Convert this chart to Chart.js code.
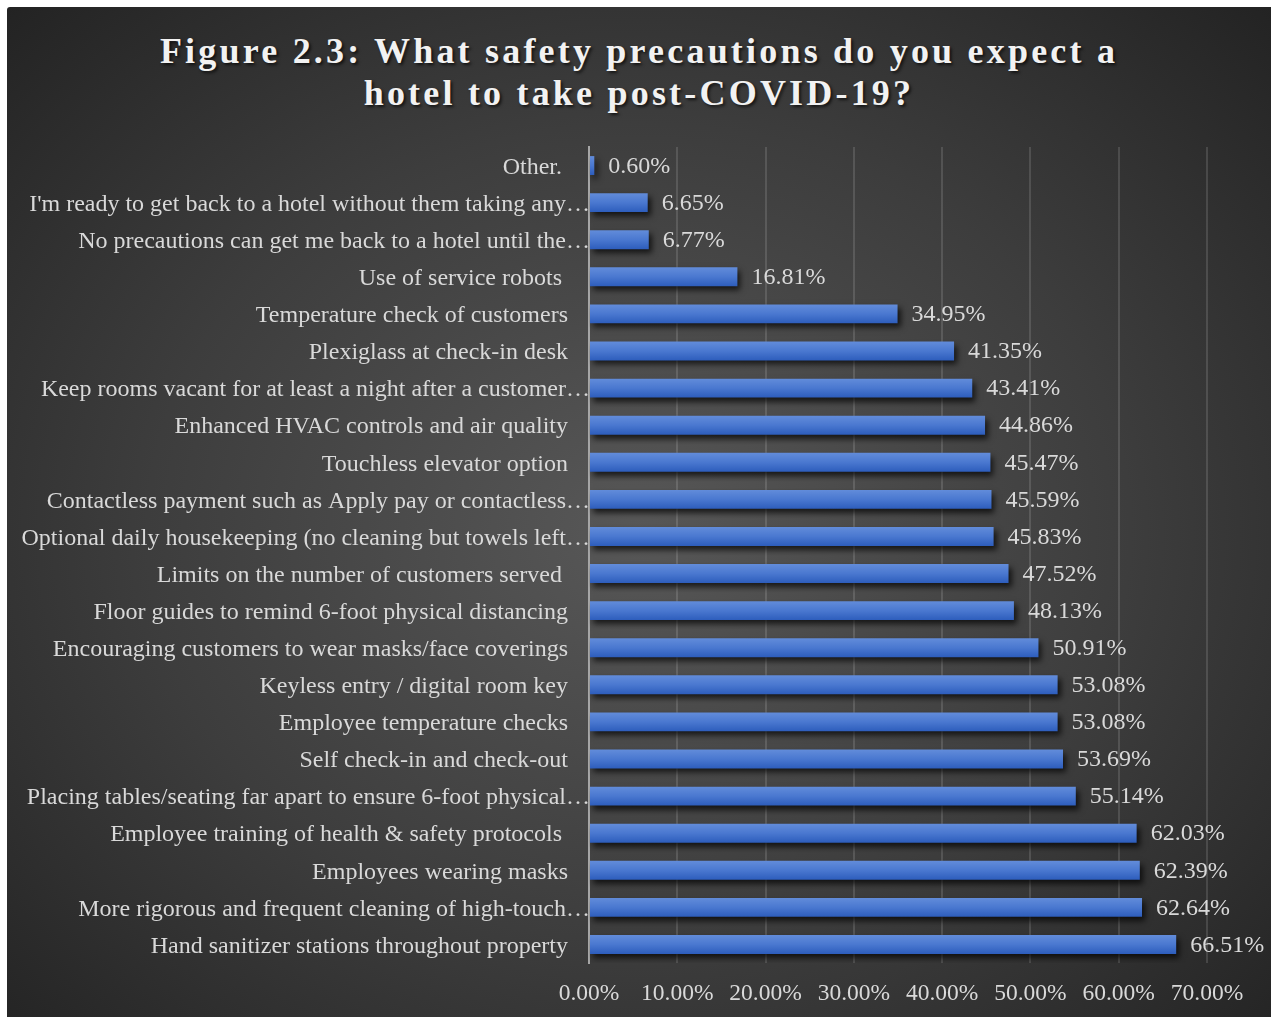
<!DOCTYPE html>
<html lang="en">
  <head>
    <meta charset="UTF-8" />
    <meta name="viewport" content="width=device-width, initial-scale=1.0" />
    <script src="https://cdn.jsdelivr.net/npm/chart.js"></script>
    <title>Hotel safety precautions</title>
    <style>
      html, body { margin: 0; padding: 0; background: #fff; }
      #wrap {
        position: absolute; left: 7px; top: 7px; width: 1264px; height: 1010px;
        background: radial-gradient(ellipse farthest-corner at 50% 52%, #585858 0%, #3d3d3d 55%, #232323 100%);
        border-top-left-radius: 3px;
        overflow: hidden;
      }
      #wrap h1 {
        position: absolute; left: 0; right: 0; top: 23px; margin: 0;
        text-align: center; color: #f2f2f2;
        font: bold 36px/42px "Liberation Serif", "Times New Roman", serif;
        letter-spacing: 3.2px;
        text-shadow: 2px 2px 3px rgba(0, 0, 0, 0.65);
      }
      #box { position: absolute; left: 0; top: 0; width: 1264px; height: 1010px; }
    </style>
  </head>
  <body>
    <div id="wrap">
      <h1>Figure 2.3: What safety precautions do you expect a<br />hotel to take post-COVID-19?</h1>
      <div id="box"><canvas id="myChart"></canvas></div>
    </div>
    <script>
      // answers, top to bottom
      const labels = [
        "Other. ",
        "I'm ready to get back to a hotel without them taking any\u2026",
        "No precautions can get me back to a hotel until the\u2026",
        "Use of service robots ",
        "Temperature check of customers",
        "Plexiglass at check-in desk",
        "Keep rooms vacant for at least a night after a customer\u2026",
        "Enhanced HVAC controls and air quality",
        "Touchless elevator option",
        "Contactless payment such as Apply pay or contactless\u2026",
        "Optional daily housekeeping (no cleaning but towels left\u2026",
        "Limits on the number of customers served ",
        "Floor guides to remind 6-foot physical distancing",
        "Encouraging customers to wear masks/face coverings",
        "Keyless entry / digital room key",
        "Employee temperature checks",
        "Self check-in and check-out",
        "Placing tables/seating far apart to ensure 6-foot physical\u2026",
        "Employee training of health & safety protocols ",
        "Employees wearing masks",
        "More rigorous and frequent cleaning of high-touch\u2026",
        "Hand sanitizer stations throughout property",
      ];
      const percents = [
        0.6, 6.65, 6.77, 16.81, 34.95, 41.35, 43.41, 44.86, 45.47, 45.59, 45.83,
        47.52, 48.13, 50.91, 53.08, 53.08, 53.69, 55.14, 62.03, 62.39, 62.64, 66.51,
      ];
      const xTicks = [0, 10, 20, 30, 40, 50, 60, 70];

      const serif = "'Liberation Serif', 'Times New Roman', serif";
      const textColor = "#d9d9d9";

      // vertical blue shading inside each bar
      function barFill(c) {
        const chart = c.chart;
        if (!chart.chartArea) return "#4674cc";
        const y = chart.scales.y.getPixelForValue(c.dataIndex);
        const h = 19;
        const g = chart.ctx.createLinearGradient(0, y - h / 2, 0, y + h / 2);
        g.addColorStop(0, "#628cda");
        g.addColorStop(0.5, "#4a78d0");
        g.addColorStop(1, "#2d5dbc");
        return g;
      }

      const barShadow = {
        id: "barShadow",
        beforeDatasetDraw(chart) {
          const ctx = chart.ctx;
          ctx.save();
          ctx.shadowColor = "rgba(0,0,0,0.7)";
          ctx.shadowBlur = 6;
          ctx.shadowOffsetX = 3;
          ctx.shadowOffsetY = 4;
        },
        afterDatasetDraw(chart) {
          chart.ctx.restore();
        },
      };

      // category names; cut-off names run right up to the axis line
      const categoryLabels = {
        id: "categoryLabels",
        afterDraw(chart) {
          const ctx = chart.ctx;
          const yScale = chart.scales.y;
          const left = chart.chartArea.left;
          ctx.save();
          ctx.font = "24px " + serif;
          ctx.fillStyle = textColor;
          ctx.textAlign = "right";
          ctx.textBaseline = "middle";
          labels.forEach((name, i) => {
            const x = name.endsWith("\u2026") ? left + 1 : left - 21;
            ctx.fillText(name, x, yScale.getPixelForTick(i) + 2);
          });
          ctx.restore();
        },
      };

      const valueLabels = {
        id: "valueLabels",
        afterDatasetsDraw(chart) {
          const ctx = chart.ctx;
          const meta = chart.getDatasetMeta(0);
          ctx.save();
          ctx.font = "24px " + serif;
          ctx.fillStyle = textColor;
          ctx.textAlign = "left";
          ctx.textBaseline = "middle";
          meta.data.forEach((bar, i) => {
            ctx.fillText(percents[i].toFixed(2) + "%", bar.x + 14, bar.y + 1);
          });
          ctx.restore();
        },
      };

      new Chart(document.getElementById("myChart"), {
        type: "bar",
        data: {
          labels: labels,
          datasets: [
            {
              data: percents,
              backgroundColor: barFill,
              borderWidth: 0,
              categoryPercentage: 0.51,
              barPercentage: 1,
            },
          ],
        },
        options: {
          indexAxis: "y",
          responsive: true,
          maintainAspectRatio: false,
          animation: false,
          layout: { padding: { top: 140, right: 64, bottom: 0, left: 0 } },
          plugins: {
            legend: { display: false },
            tooltip: { enabled: false },
          },
          scales: {
            x: {
              min: 0,
              max: 70,
              afterBuildTicks(scale) {
                scale.ticks = xTicks.map((v) => ({ value: v }));
              },
              afterFit(scale) {
                scale.height = 54;
              },
              grid: { color: "rgba(255,255,255,0.13)", lineWidth: 2, drawTicks: false },
              border: { display: false },
              ticks: {
                color: textColor,
                padding: 17,
                font: { family: serif, size: 23.5 },
                callback: (v) => Number(v).toFixed(2) + "%",
              },
            },
            y: {
              afterFit(scale) {
                scale.width = 582;
              },
              grid: { display: false, drawTicks: false },
              border: { display: true, color: "#a6a6a6", width: 2 },
              ticks: { display: false, autoSkip: false },
            },
          },
        },
        plugins: [barShadow, valueLabels, categoryLabels],
      });
    </script>
  </body>
</html>
